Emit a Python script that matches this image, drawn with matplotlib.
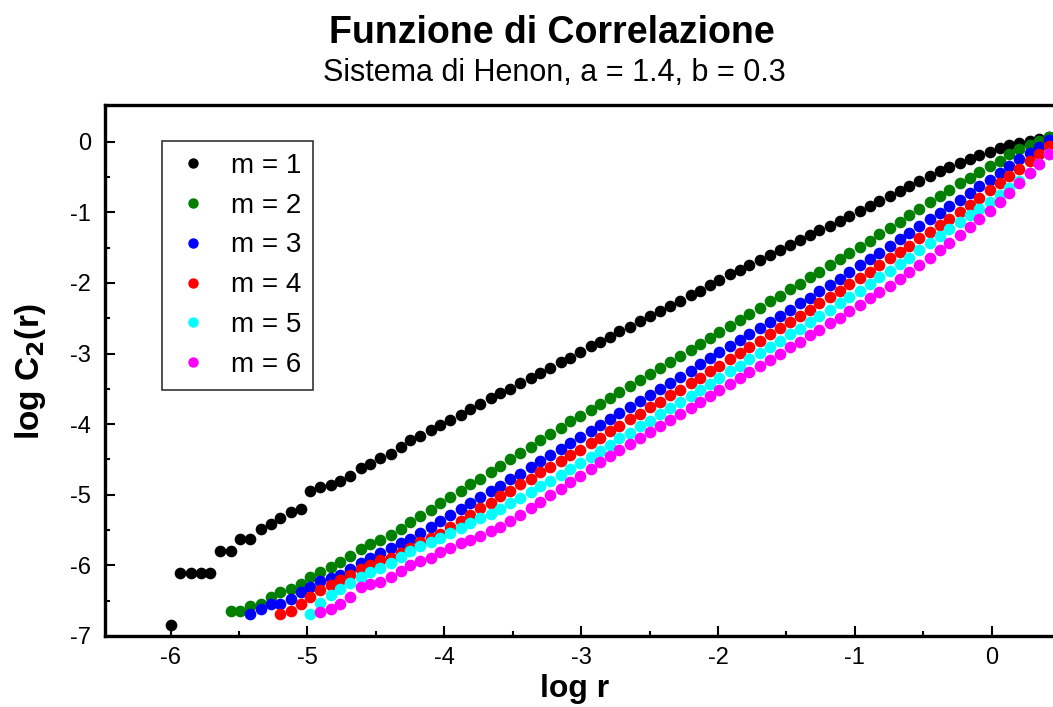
import matplotlib
matplotlib.use("Agg")
import matplotlib.pyplot as plt
from matplotlib.ticker import MultipleLocator

plt.rcParams['font.family'] = ['Liberation Sans', 'DejaVu Sans']
plt.rcParams['axes.unicode_minus'] = False

# shared log r grid (all series end at the last grid point)
LOG_R = [-6.00, -5.93, -5.85, -5.78, -5.71, -5.64, -5.56, -5.49, -5.42, -5.34,
         -5.27, -5.20, -5.12, -5.05, -4.98, -4.91, -4.83, -4.76, -4.69, -4.61,
         -4.54, -4.47, -4.39, -4.32, -4.25, -4.18, -4.10, -4.03, -3.96, -3.88,
         -3.81, -3.74, -3.66, -3.59, -3.52, -3.45, -3.37, -3.30, -3.23, -3.15,
         -3.08, -3.01, -2.93, -2.86, -2.79, -2.72, -2.64, -2.57, -2.50, -2.42,
         -2.35, -2.28, -2.20, -2.13, -2.06, -1.99, -1.91, -1.84, -1.77, -1.69,
         -1.62, -1.55, -1.47, -1.40, -1.33, -1.26, -1.18, -1.11, -1.04, -0.96,
         -0.89, -0.82, -0.74, -0.67, -0.60, -0.53, -0.45, -0.38, -0.31, -0.23,
         -0.16, -0.09, -0.01, 0.06, 0.13, 0.20, 0.28, 0.35, 0.42]

M1 = [-6.84, -6.11, -6.11, -6.11, -6.11, -5.80, -5.80, -5.63, -5.63, -5.49,
      -5.42, -5.33, -5.25, -5.20, -4.94, -4.89, -4.86, -4.80, -4.74, -4.62,
      -4.56, -4.48, -4.42, -4.32, -4.23, -4.17, -4.08, -4.01, -3.94, -3.87,
      -3.78, -3.72, -3.63, -3.56, -3.50, -3.41, -3.35, -3.27, -3.20, -3.12,
      -3.06, -2.98, -2.90, -2.84, -2.76, -2.68, -2.62, -2.54, -2.47, -2.40,
      -2.32, -2.25, -2.17, -2.11, -2.03, -1.96, -1.88, -1.82, -1.74, -1.67,
      -1.60, -1.53, -1.46, -1.39, -1.32, -1.25, -1.19, -1.12, -1.05, -0.98,
      -0.91, -0.84, -0.77, -0.70, -0.63, -0.56, -0.49, -0.42, -0.36, -0.30,
      -0.25, -0.19, -0.14, -0.09, -0.05, -0.02, 0.01, 0.04, 0.06]

M2 = [-6.65, -6.65, -6.57, -6.54, -6.45, -6.37, -6.33, -6.27, -6.17, -6.10,
      -6.02, -5.95, -5.86, -5.77, -5.70, -5.64,
      -5.57, -5.48, -5.39, -5.30, -5.21, -5.12, -5.03, -4.94, -4.85, -4.77,
      -4.68, -4.59, -4.50, -4.41, -4.32, -4.23, -4.14, -4.05, -3.96,
      -3.88, -3.80, -3.71, -3.63, -3.54, -3.46, -3.37, -3.29, -3.20, -3.12,
      -3.03, -2.95, -2.86, -2.78, -2.69, -2.61, -2.52, -2.44, -2.35, -2.26,
      -2.18, -2.09, -2.01, -1.92, -1.84, -1.75, -1.66, -1.58, -1.49, -1.40,
      -1.31, -1.22, -1.13, -1.04, -0.95, -0.86, -0.77, -0.68, -0.59, -0.51,
      -0.43, -0.35, -0.27, -0.18, -0.11, -0.04, 0.01, 0.06]

M3 = [-6.69, -6.62, -6.54, -6.54, -6.48, -6.37, -6.30, -6.22, -6.18, -6.14,
      -6.05, -5.97, -5.90, -5.83, -5.75, -5.68, -5.62, -5.54, -5.45, -5.37,
      -5.29, -5.20, -5.11, -5.03, -4.95, -4.87, -4.78, -4.70, -4.61, -4.52,
      -4.43, -4.35, -4.27, -4.18, -4.10, -4.01, -3.93, -3.84, -3.75, -3.67,
      -3.58, -3.50, -3.41, -3.33, -3.24, -3.15, -3.07, -2.98, -2.90, -2.81,
      -2.73, -2.64, -2.55, -2.47, -2.38, -2.29, -2.21, -2.12, -2.03, -1.94,
      -1.85, -1.75, -1.66, -1.57, -1.48, -1.38, -1.29, -1.20, -1.10, -1.01,
      -0.91, -0.82, -0.73, -0.63, -0.54, -0.44, -0.35, -0.25, -0.16, -0.07, 0.03]

M4 = [-6.69, -6.65, -6.55, -6.45, -6.35, -6.28, -6.21, -6.13, -6.05, -5.99,
      -5.93, -5.89, -5.82, -5.75, -5.67, -5.61, -5.55, -5.46, -5.37, -5.28,
      -5.19, -5.11, -5.02, -4.94, -4.85, -4.77, -4.68, -4.60, -4.52, -4.44,
      -4.36, -4.27, -4.19, -4.10, -4.02, -3.93, -3.85, -3.76, -3.68, -3.59,
      -3.51, -3.42, -3.34, -3.25, -3.17, -3.08, -2.99, -2.91, -2.82, -2.73,
      -2.64, -2.56, -2.47, -2.38, -2.29, -2.20, -2.11, -2.02, -1.93, -1.84,
      -1.75, -1.65, -1.56, -1.47, -1.37, -1.28, -1.18, -1.09, -0.99, -0.89,
      -0.79, -0.69, -0.59, -0.48, -0.38, -0.27, -0.17, -0.06]

M5 = [-6.69, -6.53, -6.42, -6.33, -6.25, -6.16, -6.10, -6.03, -5.96, -5.88,
      -5.80, -5.73, -5.67, -5.61, -5.54, -5.47, -5.40, -5.33, -5.27, -5.20,
      -5.12, -5.04, -4.96, -4.88, -4.80, -4.72, -4.63, -4.55, -4.46, -4.38,
      -4.29, -4.20, -4.12, -4.03, -3.95, -3.86, -3.77, -3.69, -3.60, -3.51,
      -3.43, -3.34, -3.25, -3.17, -3.08, -2.99, -2.91, -2.82, -2.73, -2.65,
      -2.56, -2.47, -2.38, -2.29, -2.20, -2.11, -2.02, -1.92, -1.83, -1.73,
      -1.64, -1.54, -1.44, -1.34, -1.24, -1.14, -1.04, -0.95, -0.85, -0.75,
      -0.65, -0.55, -0.44, -0.32, -0.18]

M6 = [-6.66, -6.62, -6.55, -6.45, -6.30, -6.26, -6.23, -6.16, -6.08, -6.00,
      -5.94, -5.89, -5.81, -5.75, -5.69, -5.64, -5.58, -5.52, -5.45, -5.37,
      -5.28, -5.19, -5.10, -5.01, -4.92, -4.82, -4.73, -4.63, -4.54, -4.45,
      -4.36, -4.28, -4.19, -4.11, -4.02, -3.94, -3.85, -3.77, -3.68, -3.60,
      -3.51, -3.43, -3.34, -3.26, -3.17, -3.09, -3.00, -2.91, -2.83, -2.74,
      -2.66, -2.57, -2.49, -2.40, -2.31, -2.22, -2.13, -2.04, -1.95, -1.85,
      -1.75, -1.65, -1.54, -1.43, -1.32, -1.21, -1.10, -0.98, -0.86, -0.72,
      -0.58, -0.45, -0.31, -0.17]

SERIES = [M1, M2, M3, M4, M5, M6]
LABELS = ["m = 1", "m = 2", "m = 3", "m = 4", "m = 5", "m = 6"]
COLORS = ["#000000", "#007f00", "#0000ff", "#ff0000", "#00ffff", "#ff00ff"]

fig = plt.figure(figsize=(10.53, 7.07), dpi=100)
ax = fig.add_axes([105 / 1053, 1 - 636 / 707, (1060 - 105) / 1053, (636 - 105) / 707])

handles = []
for ys, lab, col in zip(SERIES, LABELS, COLORS):
    xs = LOG_R[-len(ys):]
    ax.plot(xs, ys, linestyle="none", marker="o", ms=8.4, mew=0,
            color=col, clip_on=True)
    h, = ax.plot([], [], linestyle="none", marker="o", ms=7.5, mew=0,
                 color=col, label=lab)
    handles.append(h)

ax.set_xlim(-6.48, 0.5)
ax.set_ylim(-7.0, 0.52)
ax.xaxis.set_major_locator(MultipleLocator(1))
ax.xaxis.set_minor_locator(MultipleLocator(0.5))
ax.yaxis.set_major_locator(MultipleLocator(1))
ax.yaxis.set_minor_locator(MultipleLocator(0.5))
ax.tick_params(which="both", direction="in", width=1.5, top=False, right=False,
               labelsize=17, colors="black")
ax.tick_params(which="major", length=7)
ax.tick_params(which="minor", length=3.5)
ax.tick_params(axis="y", pad=10)
ax.tick_params(axis="x", pad=8)
for s in ["left", "bottom", "top", "right"]:
    ax.spines[s].set_linewidth(2.4)

leg = ax.legend(handles=handles, loc="upper left",
                bbox_to_anchor=(162 / 1053, 1 - 141 / 707),
                bbox_transform=fig.transFigure, borderaxespad=0, fontsize=20,
                frameon=True, fancybox=False, edgecolor="black", numpoints=1,
                handlelength=1.4, handletextpad=0.65, borderpad=0.42,
                labelspacing=0.5, markerscale=1.0)
leg.get_frame().set_linewidth(1.2)

fig.text(552 / 1053, 1 - 43 / 707, "Funzione di Correlazione", ha="center",
         va="baseline", fontsize=27, fontweight="bold")
fig.text(554 / 1053, 1 - 81 / 707, "Sistema di Henon, a = 1.4, b = 0.3",
         ha="center", va="baseline", fontsize=22)
fig.text(575 / 1053, 1 - 697 / 707, "log r", ha="center", va="baseline",
         fontsize=23, fontweight="bold")
fig.text(30 / 1053, 1 - 372 / 707, r"log C$_\mathbf{2}$(r)", ha="center",
         va="center", rotation=90, fontsize=24, fontweight="bold")

fig.savefig("out.png", dpi=100)
